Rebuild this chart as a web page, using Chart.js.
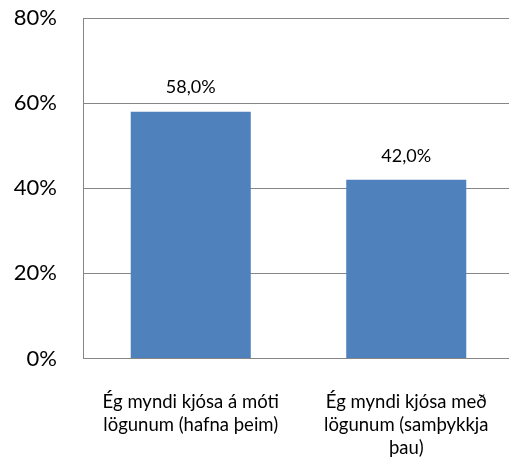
<!DOCTYPE html>
<html><head><meta charset="utf-8">
<script src="https://cdn.jsdelivr.net/npm/chart.js@4/dist/chart.umd.min.js"></script>
<style>html,body{margin:0;padding:0;background:#fff;overflow:hidden;width:509px;height:457px}
#wrap{position:relative;width:514px;height:457px}</style>
</head><body><div id="wrap"><canvas id="c" width="514" height="457"></canvas></div>
<script>
const categories = [["Ég myndi kjósa á móti","lögunum (hafna þeim)"],["Ég myndi kjósa með","lögunum (samþykkja","þau)"]];
const values = [58.0, 42.0];
const yTicks = [0, 20, 40, 60, 80];

const FONT = "Lato, 'Open Sans', sans-serif";
const labelPlugin = {
  id: 'vals',
  afterDatasetsDraw(chart){
    const ctx = chart.ctx;
    const meta = chart.getDatasetMeta(0);
    ctx.save();
    ctx.font = "18px " + FONT;
    ctx.fillStyle = "#000";
    ctx.textAlign = "center";
    ctx.textBaseline = "middle";
    meta.data.forEach((bar,i)=>{
      ctx.fillText(values[i].toFixed(1).replace('.',',') + '%', bar.x, bar.y - 24);
    });
    ctx.restore();
  }
};
new Chart(document.getElementById('c'), {
  type: 'bar',
  data: { labels: categories, datasets: [{ data: values, backgroundColor: '#4F81BD', borderWidth: 0, barPercentage: 0.557, categoryPercentage: 1 }] },
  options: {
    responsive: false, animation: false,
    layout: { padding: { top: 18, right: 0, bottom: 0, left: 0 } },
    plugins: { legend: { display: false }, tooltip: { enabled: false } },
    scales: {
      x: {
        grid: { display: false, drawTicks: false },
        border: { color: '#868686', width: 1 },
        ticks: { color: '#000', font: { family: FONT, size: 18.5, lineHeight: 1.245 }, padding: 32, maxRotation: 0, autoSkip: false },
        afterFit(s){ s.height = 98.5; s.paddingLeft = 0; s.paddingRight = 0; s.paddingTop = 0; s.paddingBottom = 0; }
      },
      y: {
        min: 0, max: 80,
        afterBuildTicks(s){ s.ticks = yTicks.map(v=>({value:v})); },
        grid: { color: '#868686', lineWidth: 1, drawTicks: false },
        border: { color: '#868686', width: 1 },
        ticks: { color: '#000', font: { family: FONT, size: 22 }, padding: 26, callback: v => v + '%' },
        afterFit(s){ s.width = 83; s.paddingTop = 0; s.paddingBottom = 0; s.paddingLeft = 0; s.paddingRight = 0; }
      }
    }
  },
  plugins: [labelPlugin]
});
</script></body></html>
